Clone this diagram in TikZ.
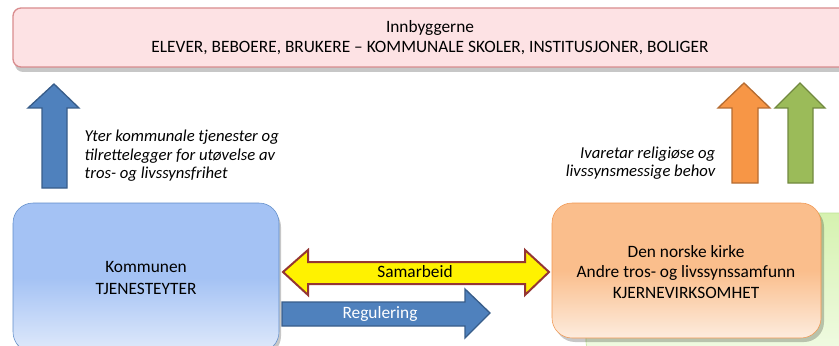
\documentclass[tikz,border=0pt]{standalone}
\usepackage{fontspec}
\setmainfont{Carlito}
\definecolor{pinkfill}{RGB}{253,226,228}
\definecolor{pinkline}{RGB}{217,140,142}
\definecolor{bluetop}{RGB}{164,194,244}
\definecolor{bluebot}{RGB}{224,234,251}
\definecolor{blueline}{RGB}{95,140,200}
\definecolor{orangetop}{RGB}{250,190,140}
\definecolor{orangebot}{RGB}{253,236,222}
\definecolor{orangeline}{RGB}{240,150,80}
\definecolor{greentop}{RGB}{214,242,176}
\definecolor{greenbot}{RGB}{242,251,230}
\definecolor{greenline}{RGB}{190,225,150}
\definecolor{arrowblue}{RGB}{79,129,189}
\definecolor{arrowblueline}{RGB}{56,93,138}
\definecolor{arroworange}{RGB}{247,150,70}
\definecolor{arroworangeline}{RGB}{182,108,49}
\definecolor{arrowgreen}{RGB}{155,187,89}
\definecolor{arrowgreenline}{RGB}{113,137,63}
\definecolor{samline}{RGB}{148,54,52}
\begin{document}
\begin{tikzpicture}[x=0.75pt,y=-0.75pt,
    txt/.style={font=\fontsize{13}{15}\selectfont,align=center},
    note/.style={font=\fontsize{12.5}{13.9}\selectfont\itshape},
    shadowbox/.style={fill=black,opacity=0.22,rounded corners=#1},
    blockarrow/.style={line width=1pt,line join=miter}]
    \useasboundingbox (0,0) rectangle (839,346);
    \clip (0,0) rectangle (839,346);
    % top box
    \fill [shadowbox=6pt] (15,12) rectangle (862,72);
    \draw [fill=pinkfill,draw=pinkline,line width=1pt,rounded corners=6pt]
     (13,8) rectangle (860,67);
    \node (innbyggere) [txt] at (430,38)
     {Innbyggerne\\ELEVER, BEBOERE, BRUKERE -- KOMMUNALE SKOLER, INSTITUSJONER, BOLIGER};
    % left box
    \fill [shadowbox=15pt] (15,207) rectangle (281,356);
    \draw [draw=blueline,rounded corners=15pt,
     top color=bluetop,bottom color=bluebot,middle color=bluetop]
     (13,203) rectangle (279,352);
    \node (kommunen) [txt,font=\fontsize{13}{16.5}\selectfont] at (146,278)
     {Kommunen\\TJENESTEYTER};
    % right boxes
    \draw [draw=greenline,rounded corners=15pt,
     top color=greentop,bottom color=greenbot]
     (586,213) rectangle (872,362);
    \fill [shadowbox=15pt] (555,207) rectangle (824,342);
    \draw [draw=orangeline,rounded corners=15pt,
     top color=orangetop,bottom color=orangebot,middle color=orangetop]
     (552,203) rectangle (821,338);
    \node (kirke) [txt,font=\fontsize{13}{15.4}\selectfont] at (686,272)
     {Den norske kirke\\Andre tros- og livssynssamfunn\\KJERNEVIRKSOMHET};
    % arrows up
    \draw [blockarrow,fill=arrowblue,draw=arrowblueline]
     (42,188) -- (42,108) -- (28,108) -- (54,84) -- (79,108) -- (67,108) -- (67,188) -- cycle;
    \draw [blockarrow,fill=arroworange,draw=arroworangeline]
     (732,183) -- (732,108) -- (718,108) -- (744,83) -- (770,108) -- (758,108) -- (758,183) -- cycle;
    \draw [blockarrow,fill=arrowgreen,draw=arrowgreenline]
     (788,183) -- (788,108) -- (775,108) -- (800,83) -- (825,108) -- (813,108) -- (813,183) -- cycle;
    % arrow texts
    \node (yter) [note,align=left,anchor=west] at (80,156)
     {Yter kommunale tjenester og\\tilrettelegger for utøvelse av\\tros- og livssynsfrihet};
    \node (ivaretar) [note,align=right,anchor=east] at (720,163)
     {Ivaretar religiøse og\\livssynsmessige behov};
    % samarbeid
    \draw [blockarrow,line width=1.5pt,fill=yellow,draw=samline]
     (283,272) -- (308,250) -- (308,262) -- (525,262) -- (525,250) -- (549,272)
     -- (525,295) -- (525,284) -- (308,284) -- (308,295) -- cycle;
    \node (samarbeid) [txt] at (415,272) {Samarbeid};
    % regulering
    \draw [blockarrow,fill=arrowblue,draw=arrowblueline]
     (282,302) -- (465,302) -- (465,289) -- (490,313) -- (465,338) -- (465,326) -- (282,326) -- cycle;
    \node (regulering) [txt,white] at (380,314) {Regulering};
\end{tikzpicture}
\end{document}
